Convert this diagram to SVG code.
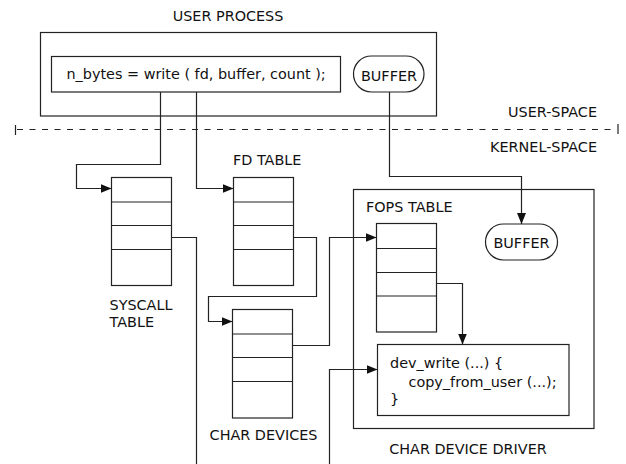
<svg xmlns="http://www.w3.org/2000/svg" width="626" height="464" viewBox="0 0 626 464">
<defs>
<marker id="arr" viewBox="0 0 11 9" refX="11" refY="4.5" markerWidth="11" markerHeight="9" markerUnits="userSpaceOnUse" orient="auto">
<path d="M0,0 L11,4.5 L0,9 z" fill="#111"/>
</marker>
<style>
text{font-family:"DejaVu Sans","Liberation Sans",sans-serif;font-size:14.4px;fill:#111}
.b{fill:#fff;stroke:#222;stroke-width:1.2}
.n{fill:none;stroke:#222;stroke-width:1.2}
.c{fill:none;stroke:#222;stroke-width:1.2}
.m{text-anchor:middle}
.e{text-anchor:end}
</style>
</defs>
<rect width="626" height="464" fill="#fff"/>

<g id="user-process">
<text class="m" x="228" y="20.5">USER PROCESS</text>
<rect class="b" x="40.5" y="32.5" width="396" height="83.5"/>
</g>
<g id="write-call">
<rect class="b" x="51.5" y="56.5" width="289" height="35.5"/>
<text x="66.5" y="79">n_bytes = write ( fd, buffer, count );</text>
</g>
<g id="user-buffer">
<rect class="b" x="353.5" y="56" width="70.5" height="36" rx="18" ry="18"/>
<text class="m" x="389" y="80.5">BUFFER</text>
</g>

<g id="boundary">
<line class="n" x1="15.5" y1="125" x2="15.5" y2="135"/>
<line class="n" x1="17" y1="129.5" x2="612" y2="129.5" stroke-dasharray="6,6.5"/>
<line class="n" x1="618" y1="124" x2="618" y2="134"/>
<text class="e" x="597" y="116.5">USER-SPACE</text>
<text class="e" x="597" y="151.5">KERNEL-SPACE</text>
</g>

<g id="syscall-table">
<rect class="b" x="111.5" y="177.5" width="60" height="108"/>
<path class="n" d="M111.5,202H171.5M111.5,225.5H171.5M111.5,249.5H171.5"/>
<text x="109.5" y="310">SYSCALL</text>
<text x="109.5" y="326.5">TABLE</text>
</g>

<g id="fd-table">
<text x="233" y="165">FD TABLE</text>
<rect class="b" x="233.5" y="177.5" width="60" height="108"/>
<path class="n" d="M233.5,202H293.5M233.5,225.5H293.5M233.5,249.5H293.5"/>
</g>

<g id="char-devices">
<rect class="b" x="232.5" y="309.5" width="60" height="108.5"/>
<path class="n" d="M232.5,334H292.5M232.5,357.5H292.5M232.5,381.5H292.5"/>
<text class="m" x="263.5" y="440">CHAR DEVICES</text>
</g>

<g id="char-device-driver">
<rect class="b" x="353.5" y="189.5" width="240.5" height="239"/>
<text class="m" x="468" y="454">CHAR DEVICE DRIVER</text>
</g>

<g id="fops-table">
<text x="366" y="211.5">FOPS TABLE</text>
<rect class="b" x="376.5" y="223.5" width="60" height="108.5"/>
<path class="n" d="M376.5,248.5H436.5M376.5,272.5H436.5M376.5,296H436.5"/>
</g>

<g id="kernel-buffer">
<rect class="b" x="485.5" y="224" width="72" height="36" rx="18" ry="18"/>
<text class="m" x="521.5" y="247.5">BUFFER</text>
</g>

<g id="dev-write">
<rect class="b" x="377.5" y="344.5" width="191.5" height="71"/>
<text x="390" y="368">dev_write (...) {</text>
<text x="408.5" y="386.5">copy_from_user (...);</text>
<text x="390" y="404">}</text>
</g>

<g id="connectors">
<path class="c" marker-end="url(#arr)" d="M160.5,92V164.5H76.5V188.5H111.5"/>
<path class="c" marker-end="url(#arr)" d="M196.5,92V188.5H233.5"/>
<path class="c" marker-end="url(#arr)" d="M389.5,92V176.5H521.5V224"/>
<path class="c" d="M171.5,237.5H196.5V464"/>
<path class="c" marker-end="url(#arr)" d="M293.5,237.5H316.5V296.5H208.5V321.5H232.5"/>
<path class="c" marker-end="url(#arr)" d="M292.5,345.5H329.5V237.5H376.5"/>
<path class="c" marker-end="url(#arr)" d="M329.5,464V369.5H377.5"/>
<path class="c" marker-end="url(#arr)" d="M436.5,283.5H462.5V344.5"/>
</g>
</svg>
